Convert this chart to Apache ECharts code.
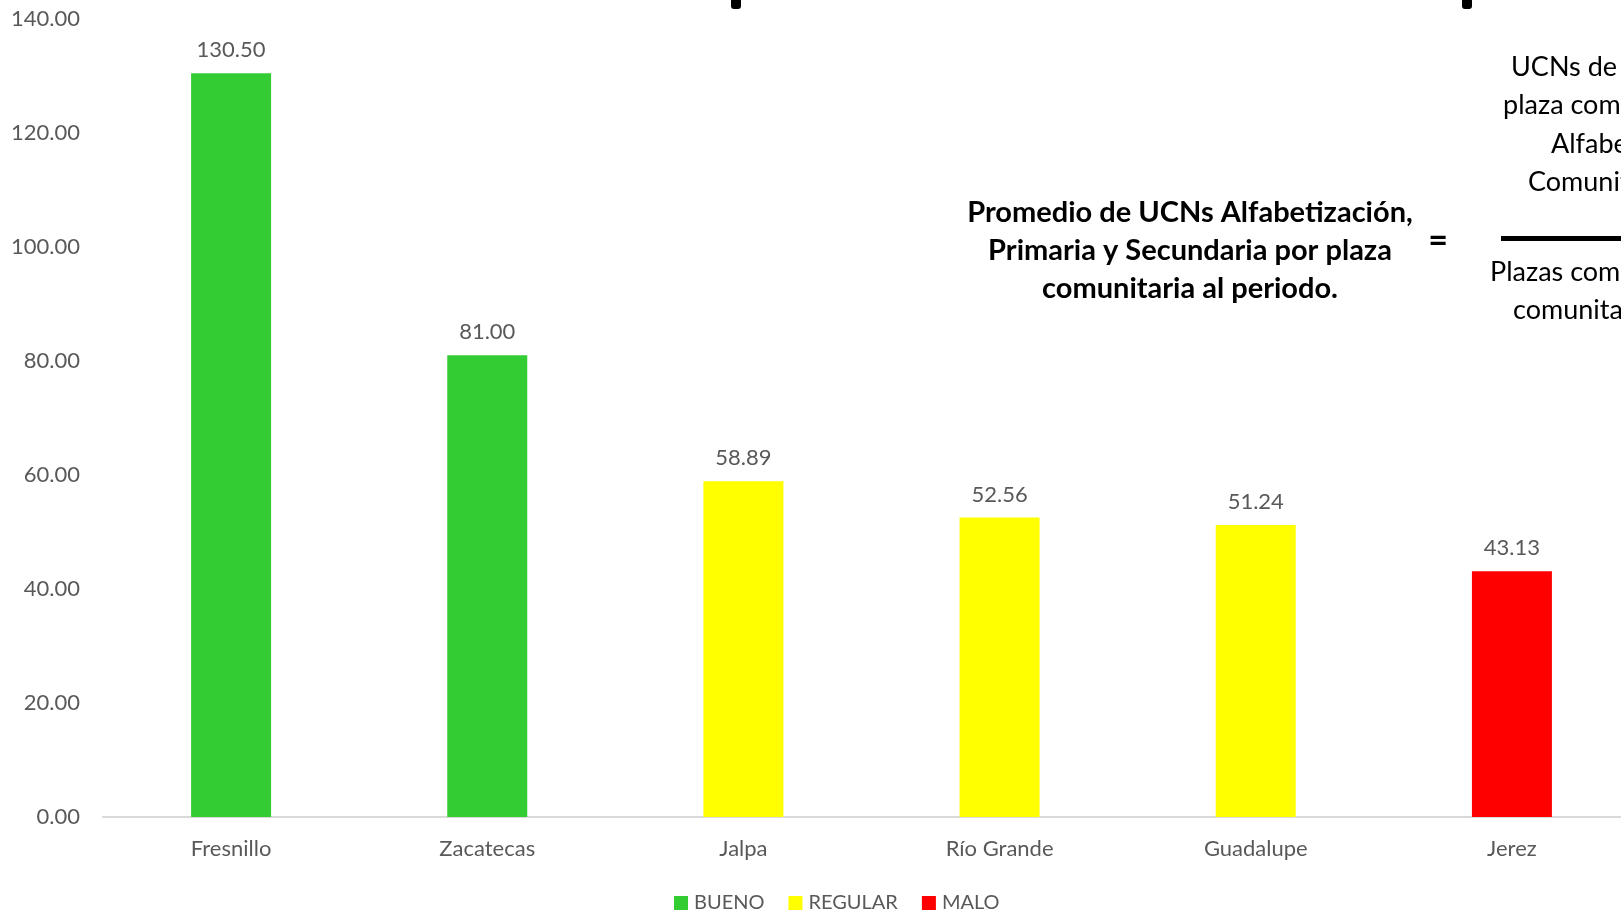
<!DOCTYPE html>
<html>
<head>
<meta charset="utf-8">
<script src="https://cdn.jsdelivr.net/npm/echarts@6/dist/echarts.min.js"></script>
<style>
  html, body { margin: 0; padding: 0; background: #fff; }
  #chart { width: 1621px; height: 911px; }
</style>
</head>
<body>
<div id="chart"></div>
<script>
const categories = ['Fresnillo', 'Zacatecas', 'Jalpa', 'Río Grande', 'Guadalupe', 'Jerez'];
const values = [130.50, 81.00, 58.89, 52.56, 51.24, 43.13];
const levels = ['BUENO', 'BUENO', 'REGULAR', 'REGULAR', 'REGULAR', 'MALO'];
const levelNames = ['BUENO', 'REGULAR', 'MALO'];
const levelColors = ['#33CC33', '#FFFF00', '#FF0000'];
const yTicks = { min: 0, max: 140, step: 20 };

const titleLines = [
  'Promedio de UCNs Alfabetización,',
  'Primaria y Secundaria por plaza',
  'comunitaria al periodo.'
];
const numeratorLines = ['UCNs de la', 'plaza comunitaria', 'Alfabetización', 'Comunitaria'];
const denominatorLines = ['Plazas comunitarias', 'comunitarias'];

const FONT = 'Lato, "Noto Sans", sans-serif';
const GRAY = '#595959';

// una serie por nivel, apiladas para que cada barra quede centrada en su categoría
const series = levelNames.map((name, i) => ({
  name: name,
  type: 'bar',
  stack: 'total',
  barWidth: 80,
  itemStyle: { color: levelColors[i] },
  label: {
    show: true,
    position: 'top',
    distance: 12,
    color: GRAY,
    fontFamily: FONT,
    fontSize: 22,
    formatter: p => p.value.toFixed(2)
  },
  data: values.map((v, j) => levels[j] === name ? v : '-')
}));

const graphics = [];
// llaves cortadas en la parte superior
[731, 1462].forEach(x => {
  graphics.push({
    type: 'rect',
    shape: { x: x, y: -6, width: 10, height: 15, r: 3 },
    style: { fill: '#000' }
  });
});
titleLines.forEach((t, i) => {
  graphics.push({
    type: 'text',
    x: 1190, y: 213 + i * 38,
    style: {
      text: t, fill: '#000', font: 'bold 29px ' + FONT,
      textAlign: 'center', textVerticalAlign: 'middle'
    }
  });
});
graphics.push({
  type: 'text', x: 1438, y: 241,
  style: { text: '=', fill: '#000', font: 'bold 34px ' + FONT, textAlign: 'center', textVerticalAlign: 'middle' }
});
[1511, 1503, 1551, 1528].forEach((x, i) => {
  graphics.push({
    type: 'text', x: x, y: 67 + i * 38.5,
    style: { text: numeratorLines[i], fill: '#000', font: '27px ' + FONT, textAlign: 'left', textVerticalAlign: 'middle' }
  });
});
graphics.push({
  type: 'rect',
  shape: { x: 1501, y: 236, width: 160, height: 5 },
  style: { fill: '#000' }
});
[1490, 1513].forEach((x, i) => {
  graphics.push({
    type: 'text', x: x, y: 272 + i * 38.5,
    style: { text: denominatorLines[i], fill: '#000', font: '27px ' + FONT, textAlign: 'left', textVerticalAlign: 'middle' }
  });
});

const chart = echarts.init(document.getElementById('chart'));
chart.setOption({
  animation: false,
  textStyle: { fontFamily: FONT },
  // la rejilla sigue más allá del borde derecho del lienzo
  grid: { left: 103, width: 1537, top: 19, bottom: 94, containLabel: false, outerBoundsMode: 'none' },
  legend: {
    data: levelNames,
    left: 674,
    top: 893,
    padding: 0,
    itemWidth: 14,
    itemHeight: 14,
    itemGap: 24,
    icon: 'rect',
    selectedMode: false,
    textStyle: { color: GRAY, fontSize: 20, fontFamily: FONT, padding: [0, 0, 0, 1] }
  },
  xAxis: {
    type: 'category',
    data: categories,
    axisLine: { lineStyle: { color: '#D9D9D9', width: 2 } },
    axisTick: { show: false },
    axisLabel: { color: GRAY, fontSize: 22, margin: 21, fontFamily: FONT }
  },
  yAxis: {
    type: 'value',
    min: yTicks.min,
    max: yTicks.max,
    interval: yTicks.step,
    axisLine: { show: false },
    axisTick: { show: false },
    splitLine: { show: false },
    axisLabel: {
      color: GRAY, fontSize: 22, margin: 23, fontFamily: FONT,
      formatter: v => v.toFixed(2)
    }
  },
  graphic: graphics,
  series: series
});
</script>
</body>
</html>
